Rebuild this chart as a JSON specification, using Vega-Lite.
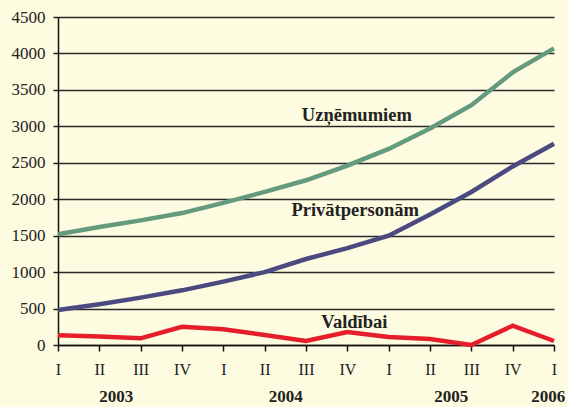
{
  "$schema": "https://vega.github.io/schema/vega-lite/v6.json",
  "width": 496,
  "height": 328,
  "autosize": {"type": "none"},
  "padding": {"left": 58, "top": 17, "right": 14, "bottom": 62},
  "background": "#fdfbe0",
  "config": {
    "view": {"stroke": null},
    "font": "Liberation Serif",
    "axis": {"labelFont": "Liberation Serif", "labelColor": "#222", "labelFontSize": 16}
  },
  "datasets": {
    "loans": [
      {"q": 0, "series": "Uzņēmumiem", "value": 1520},
      {"q": 1, "series": "Uzņēmumiem", "value": 1620},
      {"q": 2, "series": "Uzņēmumiem", "value": 1710},
      {"q": 3, "series": "Uzņēmumiem", "value": 1810},
      {"q": 4, "series": "Uzņēmumiem", "value": 1950},
      {"q": 5, "series": "Uzņēmumiem", "value": 2100},
      {"q": 6, "series": "Uzņēmumiem", "value": 2260},
      {"q": 7, "series": "Uzņēmumiem", "value": 2460},
      {"q": 8, "series": "Uzņēmumiem", "value": 2690},
      {"q": 9, "series": "Uzņēmumiem", "value": 2970},
      {"q": 10, "series": "Uzņēmumiem", "value": 3290},
      {"q": 11, "series": "Uzņēmumiem", "value": 3740},
      {"q": 12, "series": "Uzņēmumiem", "value": 4070},
      {"q": 0, "series": "Privātpersonām", "value": 480},
      {"q": 1, "series": "Privātpersonām", "value": 560},
      {"q": 2, "series": "Privātpersonām", "value": 650},
      {"q": 3, "series": "Privātpersonām", "value": 750},
      {"q": 4, "series": "Privātpersonām", "value": 870},
      {"q": 5, "series": "Privātpersonām", "value": 1000},
      {"q": 6, "series": "Privātpersonām", "value": 1180},
      {"q": 7, "series": "Privātpersonām", "value": 1330},
      {"q": 8, "series": "Privātpersonām", "value": 1500},
      {"q": 9, "series": "Privātpersonām", "value": 1790},
      {"q": 10, "series": "Privātpersonām", "value": 2100},
      {"q": 11, "series": "Privātpersonām", "value": 2450},
      {"q": 12, "series": "Privātpersonām", "value": 2760},
      {"q": 0, "series": "Valdībai", "value": 135},
      {"q": 1, "series": "Valdībai", "value": 115},
      {"q": 2, "series": "Valdībai", "value": 92},
      {"q": 3, "series": "Valdībai", "value": 250},
      {"q": 4, "series": "Valdībai", "value": 215},
      {"q": 5, "series": "Valdībai", "value": 137},
      {"q": 6, "series": "Valdībai", "value": 55},
      {"q": 7, "series": "Valdībai", "value": 178},
      {"q": 8, "series": "Valdībai", "value": 110},
      {"q": 9, "series": "Valdībai", "value": 82},
      {"q": 10, "series": "Valdībai", "value": 0},
      {"q": 11, "series": "Valdībai", "value": 265},
      {"q": 12, "series": "Valdībai", "value": 55}
    ],
    "years": [
      {"year": "2003", "q": 1.4},
      {"year": "2004", "q": 5.5},
      {"year": "2005", "q": 9.5},
      {"year": "2006", "q": 11.85}
    ],
    "labels": [
      {"label": "Uzņēmumiem", "q": 7.23, "value": 3160},
      {"label": "Privātpersonām", "q": 7.19, "value": 1850},
      {"label": "Valdībai", "q": 7.17, "value": 315}
    ]
  },
  "resolve": {"axis": {"x": "independent"}},
  "layer": [
    {
      "data": {"name": "loans"},
      "mark": {"type": "line", "strokeWidth": 4.5, "clip": false},
      "encoding": {
        "x": {
          "field": "q", "type": "quantitative",
          "scale": {"domain": [0, 12], "nice": false, "zero": false},
          "axis": {
            "title": null, "grid": false, "orient": "bottom", "values": [0,1,2,3,4,5,6,7,8,9,10,11,12],
            "labelExpr": "['I','II','III','IV'][datum.value % 4]",
            "domainColor": "#111", "domainWidth": 1.5, "tickColor": "#111", "tickWidth": 1.5,
            "tickSize": 6, "labelPadding": 10, "labelFlush": false
          }
        },
        "y": {
          "field": "value", "type": "quantitative",
          "scale": {"domain": [0, 4500], "nice": false},
          "axis": {
            "title": null, "values": [0,500,1000,1500,2000,2500,3000,3500,4000,4500], "format": "d",
            "labelFontSize": 17,
            "gridColor": "#2a2a2a", "gridWidth": 1.4, "gridOpacity": 1,
            "domainColor": "#111", "domainWidth": 1.5, "tickColor": "#111", "tickWidth": 1.4,
            "tickSize": 5, "labelPadding": 8
          }
        },
        "color": {
          "field": "series", "type": "nominal", "legend": null,
          "scale": {"domain": ["Uzņēmumiem", "Privātpersonām", "Valdībai"], "range": ["#649a7e", "#4b4a80", "#e61e2b"]}
        },
        "detail": {"field": "series"}
      }
    },
    {
      "data": {"name": "years"},
      "mark": {"type": "point", "opacity": 0},
      "encoding": {
        "x": {
          "field": "q", "type": "quantitative",
          "axis": {
            "title": null, "grid": false, "domain": false, "ticks": false, "orient": "bottom",
            "values": [1.4, 5.5, 9.5, 11.85],
            "labelExpr": "datum.value < 3 ? '2003' : datum.value < 7 ? '2004' : datum.value < 11 ? '2005' : '2006'",
            "labelFontWeight": "bold", "labelFontSize": 17, "labelColor": "#222", "labelPadding": 43, "labelFlush": false
          }
        }
      }
    },
    {
      "data": {"name": "labels"},
      "mark": {"type": "text", "font": "Liberation Serif", "fontWeight": "bold", "fontSize": 18.5, "color": "#222"},
      "encoding": {
        "x": {"field": "q", "type": "quantitative", "axis": null},
        "y": {
          "field": "value", "type": "quantitative",
          "axis": {
            "title": null, "values": [0,500,1000,1500,2000,2500,3000,3500,4000,4500], "format": "d",
            "labelFontSize": 17,
            "gridColor": "#2a2a2a", "gridWidth": 1.4, "gridOpacity": 1,
            "domainColor": "#111", "domainWidth": 1.5, "tickColor": "#111", "tickWidth": 1.4,
            "tickSize": 5, "labelPadding": 8
          }
        },
        "text": {"field": "label"}
      }
    }
  ]
}
